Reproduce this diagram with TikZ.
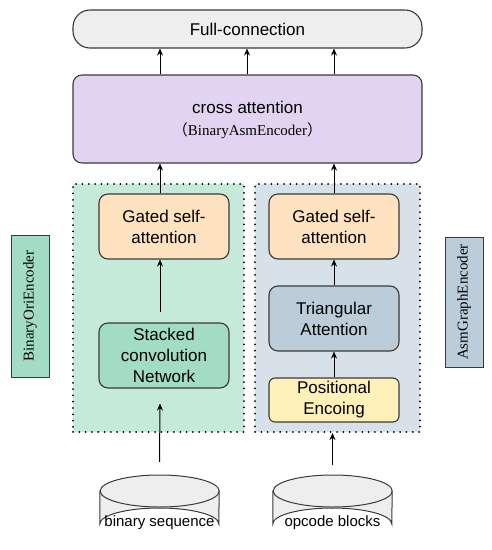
\documentclass[tikz,border=0pt]{standalone}
\usepackage{fontspec}
\setmainfont{Liberation Serif}
\setsansfont{Liberation Sans}
\newfontfamily\cjk{Noto Sans CJK SC}
\usetikzlibrary{arrows.meta,calc}
\definecolor{fcfill}{HTML}{EEEEEE}
\definecolor{cafill}{HTML}{E3D3F2}
\definecolor{gsfill}{HTML}{FFE2BF}
\definecolor{scfill}{HTML}{A2DCC4}
\definecolor{lcfill}{HTML}{C6EAD9}
\definecolor{rcfill}{HTML}{D7E1E9}
\definecolor{tafill}{HTML}{BCCCD9}
\definecolor{pefill}{HTML}{FFEFB8}
\definecolor{edge}{HTML}{3A3A3A}
\begin{document}
\begin{tikzpicture}[x=1pt,y=-1pt,
  box/.style={draw=edge,line width=1.1pt,rounded corners=9pt,align=center,
    font=\sffamily\fontsize{17}{21}\selectfont,inner sep=0pt},
  cont/.style={draw=black,line width=2pt,dash pattern=on 0.01pt off 6.3pt,line cap=round,inner sep=0pt},
  side/.style={draw=edge,line width=1pt,rotate=90,inner sep=0pt,
    font=\fontsize{15}{18}\selectfont},
  arr/.style={-{Stealth[length=7pt,width=6pt]},line width=1pt,black},
  cyl/.style={draw=edge,line width=1pt,fill=fcfill}]
\useasboundingbox (0,0) rectangle (491,550);
% containers
\node[cont,fill=lcfill,minimum width=171pt,minimum height=248pt] (lc) at (158.5,308) {};
\node[cont,fill=rcfill,minimum width=165pt,minimum height=248pt] (rc) at (337.5,308) {};
% top boxes
\node[box,fill=fcfill,rounded corners=17pt,minimum width=349pt,minimum height=38pt] (fc) at (247.5,29) {Full-connection};
\node[box,fill=cafill,minimum width=349pt,minimum height=88pt] (ca) at (247.5,119) {};
\node[font=\sffamily\fontsize{17}{21}\selectfont] (cat) at (247.5,107) {cross attention};
\node[font=\fontsize{15}{18}\selectfont] (cas) at (247.5,131) {{\cjk （}BinaryAsmEncoder{\cjk ）}};
% inner boxes
\node[box,fill=gsfill,minimum width=130pt,minimum height=65pt] (gl) at (164,226.5) {Gated self-\\attention};
\node[box,fill=gsfill,minimum width=130pt,minimum height=65pt] (gr) at (334,226.5) {Gated self-\\attention};
\node[box,fill=scfill,minimum width=130pt,minimum height=65pt] (sc) at (164,355.5) {Stacked\\convolution\\Network};
\node[box,fill=tafill,minimum width=130pt,minimum height=65pt] (ta) at (334,318.5) {Triangular\\Attention};
\node[box,fill=pefill,rounded corners=6pt,minimum width=130pt,minimum height=44pt] (pe) at (334,400) {Positional\\Encoing};
% side labels
\node[side,fill=scfill,minimum width=142pt,minimum height=38pt] (bo) at (30,306) {BinaryOriEncoder};
\node[side,fill=tafill,minimum width=130pt,minimum height=38pt] (ag) at (464,302) {AsmGraphEncoder};
% cylinders
\node[minimum width=119pt,minimum height=65pt,inner sep=0pt] (bs) at (159.5,507.5) {};
\node[minimum width=119pt,minimum height=65pt,inner sep=0pt] (ob) at (332.5,507.5) {};
\foreach \c in {bs,ob}{
  \path[cyl] ($(\c.west)+(0,-16.5)$) -- ($(\c.west)+(0,16.5)$)
     arc (180:0:59.5pt and 16pt) -- ($(\c.east)+(0,-16.5)$) arc (0:180:59.5pt and 16pt) -- cycle;
  \draw[edge,line width=1pt] ($(\c.east)+(0,-16.5)$) arc (0:-180:59.5pt and 16pt);
}
\node[font=\sffamily\fontsize{15}{18}\selectfont] (bst) at (159.5,523) {binary sequence};
\node[font=\sffamily\fontsize{15}{18}\selectfont] (obt) at (332.5,523) {opcode blocks};
% arrows
\coordinate (a1) at (160,0); \coordinate (a2) at (247,0); \coordinate (a3) at (334,0);
\draw[arr] (ca.north -| a1) -- (fc.south -| a1);
\draw[arr] (ca.north -| a2) -- (fc.south -| a2);
\draw[arr] (ca.north -| a3) -- (fc.south -| a3);
\draw[arr] (gl.north -| a1) -- (ca.south -| a1);
\draw[arr] (gr.north -| a3) -- (ca.south -| a3);
\draw[arr] ($(sc.north -| a1)+(0,-10)$) -- (gl.south -| a1);
\draw[arr] (ta.north -| a3) -- (gr.south -| a3);
\draw[arr] (pe.north -| a3) -- (ta.south -| a3);
\draw[arr] ($(bs.north)+(0,-13)$) -- ($(sc.south -| a1)+(0,15)$);
\draw[arr] ($(ob.north)+(0,-10)$) -- (rc.south -| ob);
\end{tikzpicture}
\end{document}
